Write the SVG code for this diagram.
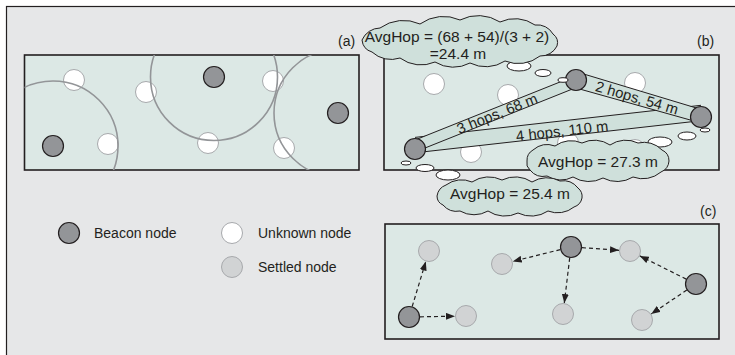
<svg xmlns="http://www.w3.org/2000/svg" width="735" height="355" viewBox="0 0 735 355">
  <defs>
    <style>
      .frame { fill: #e6e7e8; stroke: #231f20; stroke-width: 1.2; }
      .panel { fill: #dce8e5; stroke: #231f20; stroke-width: 1.6; }
      .beacon { fill: #939598; stroke: #231f20; stroke-width: 1.2; }
      .unknown { fill: #ffffff; stroke: #a7a9ac; stroke-width: 1; }
      .settled { fill: #d1d3d4; stroke: #a7a9ac; stroke-width: 1; }
      .range { fill: none; stroke: #939598; stroke-width: 1.6; }
      .band { fill: #cfe0db; stroke: none; }
      .edge { fill: none; stroke: #231f20; stroke-width: 1; }
      .cloud { fill: #cfe0db; stroke: #231f20; stroke-width: 1; }
      .puff { fill: #ffffff; stroke: #231f20; stroke-width: 1; }
      .link { fill: none; stroke: #231f20; stroke-width: 1.2; stroke-dasharray: 4 3; marker-end: url(#head); }
      text { font-family: "Liberation Sans", Arial, sans-serif; fill: #231f20; }
      .lbl { font-size: 14px; }
      .big { font-size: 15.5px; }
      .hop { font-size: 14.8px; }
    </style>
    <marker id="head" viewBox="0 0 9 7" refX="9" refY="3.5" markerWidth="9" markerHeight="7" markerUnits="userSpaceOnUse" orient="auto">
      <path d="M0,0 L9,3.5 L0,7 z" fill="#231f20"/>
    </marker>
    <clipPath id="clipA">
      <rect x="24.5" y="55" width="334.5" height="115"/>
    </clipPath>
  </defs>

  <rect x="0" y="0" width="735" height="355" fill="#ffffff"/>
  <rect class="frame" x="6.5" y="6.5" width="740" height="360"/>

  <!-- Panel (a): beacons with radio ranges -->
  <g id="panel-a">
    <rect class="panel" x="24.5" y="55" width="334.5" height="115"/>
    <circle class="unknown" cx="74" cy="80" r="10.5"/>
    <circle class="unknown" cx="146" cy="92" r="10.5"/>
    <circle class="unknown" cx="273" cy="81" r="10.5"/>
    <circle class="unknown" cx="108" cy="144" r="10.5"/>
    <circle class="unknown" cx="208" cy="143" r="10.5"/>
    <circle class="unknown" cx="284" cy="148" r="10.5"/>
    <circle class="beacon" cx="214" cy="77" r="10.5"/>
    <circle class="beacon" cx="338" cy="113" r="10.5"/>
    <circle class="beacon" cx="53" cy="146" r="10.5"/>
    <g clip-path="url(#clipA)">
      <circle class="range" cx="53" cy="146" r="65"/>
      <circle class="range" cx="214" cy="77" r="63.5"/>
      <circle class="range" cx="338" cy="113" r="64"/>
    </g>
    <text class="lbl" x="338" y="46">(a)</text>
  </g>

  <!-- Panel (b): hop counts and average hop sizes -->
  <g id="panel-b">
    <rect class="panel" x="384" y="55" width="335" height="115"/>
    <circle class="unknown" cx="434" cy="84" r="10.5"/>
    <circle class="unknown" cx="508" cy="95" r="10.5"/>
    <circle class="unknown" cx="635" cy="83" r="10.5"/>
    <circle class="unknown" cx="471" cy="152" r="10.5"/>
    <circle class="unknown" cx="568" cy="143" r="10.5"/>
    <circle class="unknown" cx="635" cy="150" r="10.5"/>
    <text class="lbl" x="697" y="46">(b)</text>
  </g>

  <!-- Panel (c): settled nodes -->
  <g id="panel-c">
    <rect class="panel" x="385" y="224" width="334" height="115"/>
    <text class="lbl" x="700" y="216">(c)</text>
  </g>

  <g id="connectors">
    <!-- hop bands between beacons -->
    <g id="band-4hops">
      <polygon class="band" points="415,137.4 701,105.3 701,120.7 415,152.8"/>
      <path class="edge" d="M415,137.4 L701,105.3 M415,152.8 L701,120.7"/>
      <text class="hop" text-anchor="middle" transform="translate(562,130) rotate(-6.4)" x="0" y="6">4 hops, 110 m</text>
    </g>
    <g id="band-3hops">
      <polygon class="band" points="415,140 576,75.6 576,87.6 415,152"/>
      <path class="edge" d="M415,140 L576,75.6 M415,152 L576,87.6"/>
      <text class="hop" text-anchor="middle" transform="translate(497,113.2) rotate(-21.8)" x="0" y="5.5">3 hops, 68 m</text>
    </g>
    <g id="band-2hops">
      <polygon class="band" points="576,71.7 701,109.4 701,123 576,88"/>
      <path class="edge" d="M576,71.7 L701,109.4 M576,88 L701,123"/>
      <text class="hop" text-anchor="middle" transform="translate(637,97.5) rotate(16.3)" x="0" y="5.5">2 hops, 54 m</text>
    </g>

    <!-- flooding of corrections in panel (c) -->
    <path class="link" d="M412.2,306.5 L425.8,261.5"/>
    <path class="link" d="M420,316.8 L455,316.2"/>
    <path class="link" d="M560.3,249.6 L512.7,261.4"/>
    <path class="link" d="M582,247.7 L619,250.3"/>
    <path class="link" d="M569.7,257.9 L564.3,303.1"/>
    <path class="link" d="M686.2,279.1 L639.8,255.9"/>
    <path class="link" d="M686.8,290.1 L651.2,313.9"/>
  </g>

  <g id="beacons-b">
    <circle class="beacon" cx="576" cy="80" r="10.5"/>
    <circle class="beacon" cx="701" cy="117" r="10.5"/>
    <circle class="beacon" cx="415" cy="149" r="10.5"/>
  </g>

  <!-- thought clouds -->
  <g id="cloud-top">
    <ellipse class="puff" cx="563" cy="80" rx="5" ry="2.3"/>
    <ellipse class="puff" cx="543" cy="73" rx="8" ry="3.5"/>
    <ellipse class="puff" cx="519" cy="66" rx="12" ry="5"/>
    <path class="cloud" d="M362,40 A20,20 0 0 1 380,28 A40,40 0 0 1 420,24 A40,40 0 0 1 460,20 A40,40 0 0 1 500,22 A35,35 0 0 1 535,25 A18,18 0 0 1 553,34 A11,11 0 0 1 557,46 A18,18 0 0 1 540,56 A35,35 0 0 1 505,61 A35,35 0 0 1 470,63 A35,35 0 0 1 435,62 A35,35 0 0 1 400,58 A28,28 0 0 1 372,52 A14,14 0 0 1 362,40 Z"/>
    <text class="big" text-anchor="middle" x="457" y="42">AvgHop = (68 + 54)/(3 + 2)</text>
    <text class="big" text-anchor="middle" x="458" y="58.5">=24.4 m</text>
  </g>

  <g id="cloud-right">
    <ellipse class="puff" cx="705" cy="130" rx="5" ry="2"/>
    <ellipse class="puff" cx="687" cy="136" rx="9" ry="4"/>
    <ellipse class="puff" cx="660" cy="142" rx="12" ry="5"/>
    <path class="cloud" d="M527,161 A12,12 0 0 1 533,150 A22,22 0 0 1 555,146 A27,27 0 0 1 582,143 A28,28 0 0 1 610,145 A28,28 0 0 1 638,143 A25,25 0 0 1 662,150 A12,12 0 0 1 669,161 A13,13 0 0 1 661,172 A28,28 0 0 1 633,177 A30,30 0 0 1 603,178 A30,30 0 0 1 573,177 A26,26 0 0 1 547,176 A17,17 0 0 1 530,170 A9,9 0 0 1 527,161 Z"/>
    <text class="big" x="538" y="167">AvgHop = 27.3 m</text>
  </g>

  <g id="cloud-bottom">
    <ellipse class="puff" cx="406" cy="163" rx="5" ry="2"/>
    <ellipse class="puff" cx="425" cy="168" rx="9" ry="3.5"/>
    <ellipse class="puff" cx="448" cy="175" rx="12" ry="5"/>
    <path class="cloud" d="M437,196 A14,14 0 0 1 446,185 A26,26 0 0 1 472,182 A30,30 0 0 1 502,180 A30,30 0 0 1 532,182 A28,28 0 0 1 560,181 A19,19 0 0 1 578,188 A11,11 0 0 1 582,198 A12,12 0 0 1 574,207 A26,26 0 0 1 548,211 A30,30 0 0 1 518,213 A30,30 0 0 1 488,211 A28,28 0 0 1 460,211 A18,18 0 0 1 443,205 A10,10 0 0 1 437,196 Z"/>
    <text class="big" x="450" y="199">AvgHop = 25.4 m</text>
  </g>

  <g id="nodes-c">
    <circle class="settled" cx="429" cy="251" r="10.5"/>
    <circle class="settled" cx="502" cy="264" r="10.5"/>
    <circle class="settled" cx="630" cy="251" r="10.5"/>
    <circle class="settled" cx="466" cy="316" r="10.5"/>
    <circle class="settled" cx="563" cy="314" r="10.5"/>
    <circle class="settled" cx="642" cy="320" r="10.5"/>
    <circle class="beacon" cx="571" cy="247" r="10.5"/>
    <circle class="beacon" cx="696" cy="284" r="10.5"/>
    <circle class="beacon" cx="409" cy="317" r="10.5"/>
  </g>

  <!-- legend -->
  <g id="legend">
    <circle class="beacon" cx="69" cy="233" r="10.5"/>
    <text class="lbl" x="94" y="238">Beacon node</text>
    <circle class="unknown" cx="232" cy="233" r="10.5"/>
    <text class="lbl" x="258" y="238">Unknown node</text>
    <circle class="settled" cx="232" cy="267" r="10.5"/>
    <text class="lbl" x="258" y="272">Settled node</text>
  </g>
</svg>
